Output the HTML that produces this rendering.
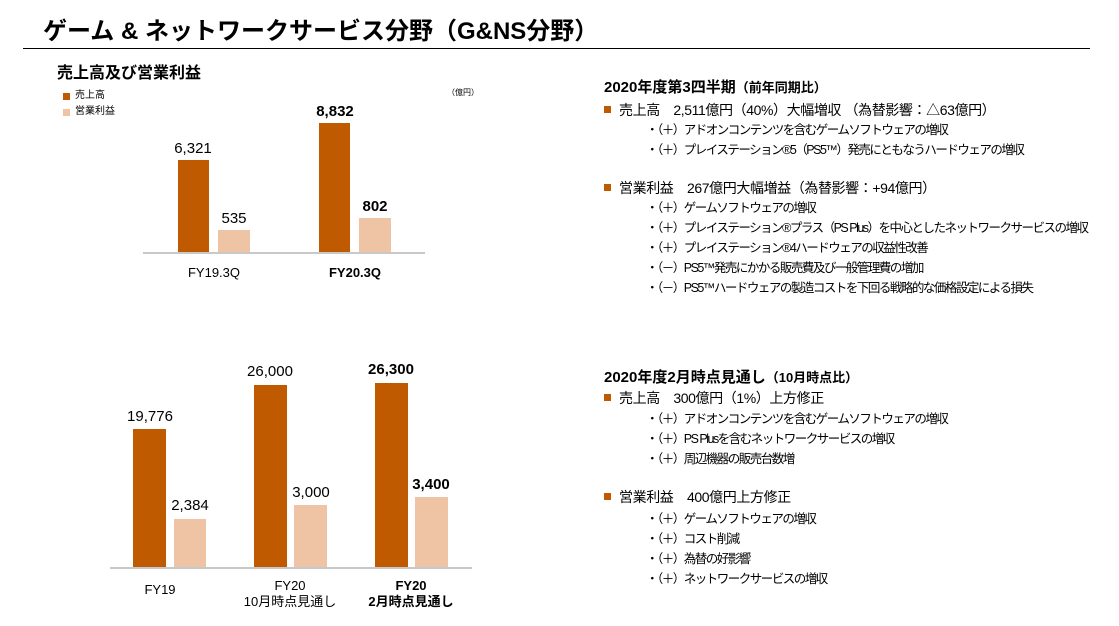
<!DOCTYPE html>
<html><head><meta charset="utf-8"><style>
body{margin:0;width:1119px;height:626px;background:#fff;position:relative;overflow:hidden;font-family:"Liberation Sans","Noto Sans CJK JP",sans-serif;color:#000}
.a{position:absolute;white-space:nowrap;line-height:1}
.b{position:absolute;background:#c05a00}
.l{position:absolute;background:#eec4a4}
.ax{position:absolute;height:2px;background:#c8c8c8}
.v{position:absolute;font-size:15px;text-align:center;width:80px;line-height:1}
.h{font-size:15px;font-weight:bold}
.m{font-size:14px;letter-spacing:-0.4px}
.m:before{content:"";display:inline-block;width:7px;height:7px;background:#c05a00;margin-right:8px;vertical-align:2px}
.s{font-size:12.5px;letter-spacing:-1.5px}
</style></head><body>
<div class="a" style="left:43px;top:20px;font-size:24px;font-weight:bold">ゲーム &amp; ネットワークサービス分野（G&amp;NS分野）</div>
<div style="position:absolute;left:23px;top:48px;width:1067px;height:1px;background:#000"></div>

<div class="a" style="left:57px;top:66px;font-size:16px;font-weight:bold">売上高及び営業利益</div>
<div style="position:absolute;left:63px;top:93px;width:7px;height:7px;background:#c05a00"></div>
<div class="a" style="left:75px;top:91px;font-size:10px">売上高</div>
<div style="position:absolute;left:63px;top:109px;width:7px;height:7px;background:#eec4a4"></div>
<div class="a" style="left:75px;top:107px;font-size:10px">営業利益</div>
<div class="a" style="left:447px;top:89px;font-size:8px">（億円）</div>

<div class="b" style="left:178px;top:160px;width:31px;height:93px"></div>
<div class="l" style="left:218px;top:230px;width:32px;height:23px"></div>
<div class="b" style="left:319px;top:123px;width:31px;height:130px"></div>
<div class="l" style="left:359px;top:218px;width:32px;height:35px"></div>
<div class="ax" style="left:143px;top:252px;width:282px"></div>
<div class="v" style="left:153px;top:141px">6,321</div>
<div class="v" style="left:194px;top:211px">535</div>
<div class="v" style="left:295px;top:104px;font-weight:bold">8,832</div>
<div class="v" style="left:335px;top:199px;font-weight:bold">802</div>
<div class="v" style="top:266px;font-size:13px;width:120px;left:154px">FY19.3Q</div>
<div class="v" style="left:295px;top:266px;font-size:13px;width:120px;font-weight:bold">FY20.3Q</div>

<div class="b" style="left:133px;top:429px;width:33px;height:139px"></div>
<div class="l" style="left:174px;top:519px;width:32px;height:49px"></div>
<div class="b" style="left:254px;top:385px;width:33px;height:183px"></div>
<div class="l" style="left:294px;top:505px;width:33px;height:63px"></div>
<div class="b" style="left:375px;top:383px;width:33px;height:185px"></div>
<div class="l" style="left:415px;top:497px;width:33px;height:71px"></div>
<div class="ax" style="left:110px;top:567px;width:362px"></div>
<div class="v" style="left:110px;top:409px">19,776</div>
<div class="v" style="left:150px;top:498px">2,384</div>
<div class="v" style="left:230px;top:364px">26,000</div>
<div class="v" style="left:271px;top:485px">3,000</div>
<div class="v" style="left:351px;top:362px;font-weight:bold">26,300</div>
<div class="v" style="left:391px;top:477px;font-weight:bold">3,400</div>
<div class="v" style="left:120px;top:583px;font-size:13px">FY19</div>
<div class="v" style="top:578px;font-size:13px;width:120px;left:230px;line-height:16px">FY20<br>10月時点見通し</div>
<div class="v" style="left:351px;top:578px;font-size:13px;width:120px;font-weight:bold;line-height:16px">FY20<br>2月時点見通し</div>

<div class="a h" style="left:604px;top:80px">2020年度第3四半期<span style="font-size:13px">（前年同期比）</span></div>
<div class="a m" style="left:604px;top:103px">売上高　2,511億円（40%）大幅増収 （為替影響：△63億円）</div>
<div class="a s" style="left:646px;top:124px">・（＋）アドオンコンテンツを含むゲームソフトウェアの増収</div>
<div class="a s" style="left:646px;top:144px">・（＋）プレイステーション®5（PS5™）発売にともなうハードウェアの増収</div>
<div class="a m" style="left:604px;top:181px">営業利益　267億円大幅増益（為替影響：+94億円）</div>
<div class="a s" style="left:646px;top:202px">・（＋）ゲームソフトウェアの増収</div>
<div class="a s" style="left:646px;top:222px">・（＋）プレイステーション®プラス（PS Plus）を中心としたネットワークサービスの増収</div>
<div class="a s" style="left:646px;top:242px">・（＋）プレイステーション®4ハードウェアの収益性改善</div>
<div class="a s" style="left:646px;top:262px">・（－）PS5™発売にかかる販売費及び一般管理費の増加</div>
<div class="a s" style="left:646px;top:282px">・（－）PS5™ハードウェアの製造コストを下回る戦略的な価格設定による損失</div>

<div class="a h" style="left:604px;top:370px">2020年度2月時点見通し<span style="font-size:13px">（10月時点比）</span></div>
<div class="a m" style="left:604px;top:391px">売上高　300億円（1%）上方修正</div>
<div class="a s" style="left:646px;top:413px">・（＋）アドオンコンテンツを含むゲームソフトウェアの増収</div>
<div class="a s" style="left:646px;top:433px">・（＋）PS Plusを含むネットワークサービスの増収</div>
<div class="a s" style="left:646px;top:453px">・（＋）周辺機器の販売台数増</div>
<div class="a m" style="left:604px;top:490px">営業利益　400億円上方修正</div>
<div class="a s" style="left:646px;top:513px">・（＋）ゲームソフトウェアの増収</div>
<div class="a s" style="left:646px;top:533px">・（＋）コスト削減</div>
<div class="a s" style="left:646px;top:553px">・（＋）為替の好影響</div>
<div class="a s" style="left:646px;top:573px">・（＋）ネットワークサービスの増収</div>
</body></html>
